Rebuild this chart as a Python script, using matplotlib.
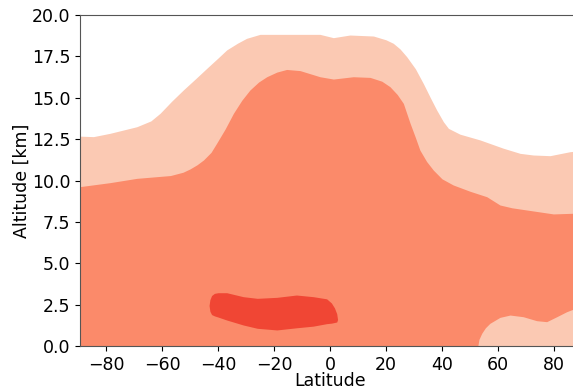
import matplotlib
matplotlib.use("Agg")
import matplotlib.pyplot as plt
import numpy as np

# colours (3 filled contour levels, Reds-like)
light = '#fbc9b3'
medium = '#fb8a6a'
dark = '#f04634'

# outer (lowest level) top boundary: latitude vs altitude [km]
lat_outer = [-89.3, -84.5, -78.6, -69.0, -64.0, -60.7, -56.5, -52.4, -48.0, -44.0,
             -40.0, -36.9, -33.0, -29.8, -25.0, -3.6, 1.2, 7.1, 15.5, 20.0,
             22.6, 25.0, 27.4, 30.5, 33.3, 36.0, 38.1, 40.5, 42.3, 46.4,
             53.6, 61.9, 67.9, 72.6, 78.6, 85.7, 89.3]
alt_outer = [12.68, 12.65, 12.85, 13.25, 13.6, 14.06, 14.8, 15.47, 16.15, 16.78,
             17.4, 17.89, 18.3, 18.59, 18.83, 18.83, 18.63, 18.79, 18.73, 18.5,
             18.29, 17.95, 17.48, 16.75, 15.87, 14.95, 14.26, 13.55, 13.15, 12.8,
             12.45, 11.95, 11.64, 11.54, 11.5, 11.74, 11.8]

# middle level top boundary
lat_mid = [-89.3, -78.6, -69.0, -57.0, -52.5, -50.0, -47.5, -45.2, -42.5, -40.5,
           -37.5, -34.5, -31.5, -28.6, -25.5, -22.6, -19.0, -15.5, -10.7, -3.6,
           1.2, 8.3, 14.3, 18.5, 21.4, 24.0, 26.2, 28.6, 30.5, 32.1,
           34.5, 36.9, 40.0, 44.0, 50.0, 56.0, 60.7, 65.0, 70.2, 79.8,
           86.8, 89.3]
alt_mid = [9.63, 9.87, 10.13, 10.3, 10.5, 10.7, 10.95, 11.24, 11.7, 12.25,
           13.1, 14.06, 14.85, 15.47, 15.95, 16.27, 16.55, 16.71, 16.64, 16.27,
           16.13, 16.27, 16.23, 16.0, 15.67, 15.2, 14.66, 13.46, 12.6, 11.84,
           11.15, 10.63, 10.1, 9.73, 9.35, 9.02, 8.52, 8.35, 8.22, 7.98,
           8.02, 8.02]

# highest level closed region (upper / lower edges)
lat_core = [-43.2, -42.9, -42.3, -41.3, -40.0, -36.9, -31.0, -26.0, -19.0, -12.0,
            -6.0, -1.2, 0.5, 1.6, 2.4, 2.7]
core_top = [2.45, 2.8, 3.05, 3.18, 3.22, 3.22, 2.98, 2.88, 2.94, 3.08,
            2.98, 2.85, 2.6, 2.3, 1.95, 1.6]
core_bot = [2.45, 2.1, 1.9, 1.82, 1.75, 1.57, 1.27, 1.07, 0.97, 1.1,
            1.2, 1.35, 1.38, 1.42, 1.45, 1.6]

# low-value pocket near the surface, northern high latitudes
lat_pocket = [52.8, 53.2, 54.2, 55.5, 57.1, 60.7, 64.3, 69.0, 73.8, 77.4,
              81.0, 84.5, 86.8, 89.3]
alt_pocket = [0.0, 0.4, 0.77, 1.1, 1.37, 1.73, 1.87, 1.77, 1.53, 1.47,
              1.77, 2.07, 2.22, 2.3]

fig = plt.figure(figsize=(5.73, 3.89), dpi=100)
ax = fig.add_axes([80 / 573, 43 / 389, 500 / 573, 331 / 389])

ax.fill_between(lat_outer, 0, alt_outer, color=light, lw=0)
ax.fill_between(lat_mid, 0, alt_mid, color=medium, lw=0)
ax.fill_between(lat_core, core_bot, core_top, color=dark, lw=0)
ax.fill_between(lat_pocket, 0, alt_pocket, color=light, lw=0)

ax.set_xlim(-89.3, 89.3)
ax.set_ylim(0, 20)
ax.set_xticks(np.arange(-80, 81, 20))
ax.set_yticks(np.arange(0, 20.1, 2.5))
ax.tick_params(labelsize=12.5)
ax.set_xlabel('Latitude', fontsize=12.5, labelpad=-1)
ax.set_ylabel('Altitude [km]', fontsize=12.5, labelpad=1)
for s in ax.spines.values():
    s.set_color('#555555')

fig.savefig('out.png', dpi=100)
